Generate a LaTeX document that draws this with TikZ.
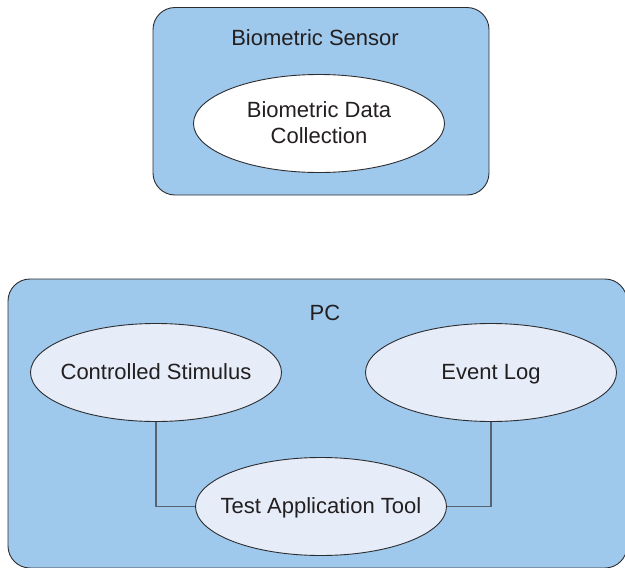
\documentclass[tikz,border=0pt]{standalone}
\usepackage{fontspec}
\setmainfont{Liberation Sans}
\usetikzlibrary{shapes.geometric}
\definecolor{boxblue}{RGB}{158,200,236}
\definecolor{ellfill}{RGB}{230,237,248}
\definecolor{edgedark}{RGB}{45,45,48}
\definecolor{linkgray}{RGB}{88,98,112}
\definecolor{txt}{RGB}{35,31,32}
\newcommand{\ovaltext}[1]{\makebox[0pt]{\raisebox{-7pt}[0pt][0pt]{#1}}}
\begin{document}
\begin{tikzpicture}[x=1pt,y=-1pt,
  container/.style={draw=edgedark,fill=boxblue,line width=0.9pt,rounded corners=22pt},
  oval/.style={ellipse,draw=edgedark,line width=0.9pt,inner sep=0pt,
    minimum width=251pt,minimum height=98pt,text=txt,
    font=\fontsize{22}{26}\selectfont},
  title/.style={text=txt,font=\fontsize{22}{26}\selectfont,inner sep=0pt,anchor=base},
  link/.style={draw=linkgray,line width=1.3pt}]
\useasboundingbox (0,0) rectangle (625,568);
% top container
\draw[container] (153,7.5) rectangle (489,195);
\node[title] (bs) at (315,45) {Biometric Sensor};
\node[oval,fill=white] (bdc) at (319,123.5) {\makebox[0pt]{\raisebox{-19.5pt}[0pt][0pt]{\begin{tabular}[b]{@{}c@{}}Biometric Data\\[0pt]Collection\end{tabular}}}};
% bottom container
\draw[container] (8,279) rectangle (627,568);
\node[title] (pc) at (325,320) {PC};
\node[oval,fill=ellfill] (cs) at (156,372.5) {\ovaltext{Controlled Stimulus}};
\node[oval,fill=ellfill] (el) at (491,372.5) {\ovaltext{Event Log}};
\node[oval,fill=ellfill] (tat) at (321,506.5) {\ovaltext{Test Application Tool}};
\draw[link] (cs.south) |- (tat.west);
\draw[link] (el.south) |- (tat.east);
\end{tikzpicture}
\end{document}
